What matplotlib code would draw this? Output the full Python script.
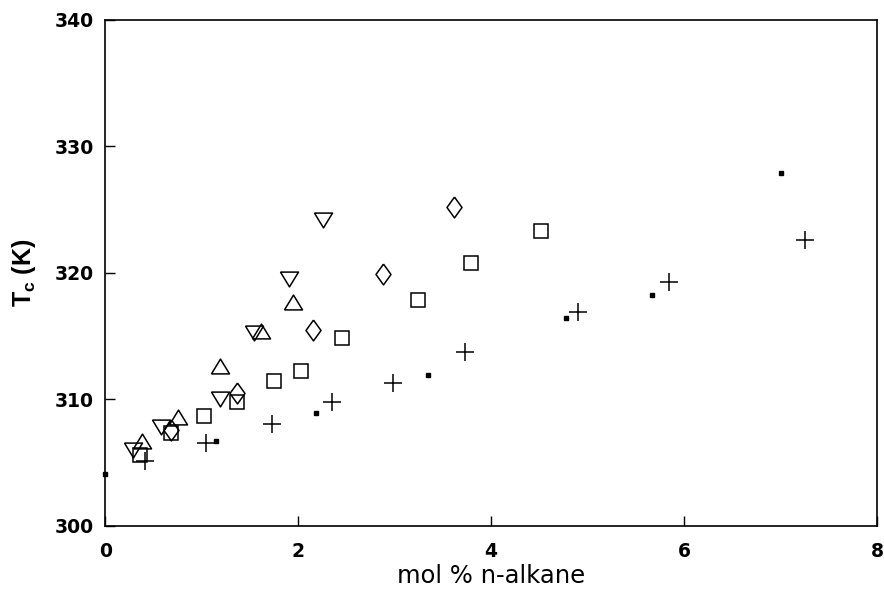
import numpy as np
import matplotlib
matplotlib.use("Agg")
import matplotlib.pyplot as plt

plt.rcParams['font.family'] = ['DejaVu Sans']

# mol % n-alkane vs Tc (K), one array pair per symbol series
dot_x = [0.0, 1.15, 2.19, 3.35, 4.78, 5.67, 7.01]
dot_y = [304.1, 306.7, 308.9, 311.9, 316.4, 318.2, 327.9]

plus_x = [0.41, 1.05, 1.73, 2.35, 2.98, 3.73, 4.90, 5.84, 7.25]
plus_y = [305.1, 306.5, 308.0, 309.8, 311.3, 313.7, 316.9, 319.3, 322.6]

square_x = [0.36, 0.68, 1.02, 1.37, 1.75, 2.03, 2.45, 3.24, 3.79, 4.52]
square_y = [305.6, 307.3, 308.7, 309.8, 311.4, 312.2, 314.8, 317.8, 320.8, 323.3]

diamond_x = [0.68, 1.37, 2.15, 2.88, 3.62]
diamond_y = [307.6, 310.5, 315.5, 319.9, 325.2]

up_x = [0.38, 0.75, 1.19, 1.61, 1.95]
up_y = [306.7, 308.6, 312.6, 315.4, 317.7]

down_x = [0.29, 0.58, 1.19, 1.54, 1.91, 2.26]
down_y = [306.0, 307.8, 310.0, 315.2, 319.5, 324.2]

x_ticks = [0, 2, 4, 6, 8]
y_ticks = [300, 310, 320, 330, 340]

# marker shapes a bit squatter / wider than the matplotlib defaults
tri_up = [(-1, -0.82), (1, -0.82), (0, 0.82), (-1, -0.82)]
tri_down = [(-1, 0.82), (1, 0.82), (0, -0.82), (-1, 0.82)]
diamond = [(0, 1), (0.72, 0), (0, -1), (-0.72, 0), (0, 1)]

fig = plt.figure(figsize=(8.84, 5.94), dpi=100)
ax = fig.add_axes([0.119, 0.115, 0.873, 0.852])

open_kw = dict(linestyle='none', markerfacecolor='none', markeredgecolor='black',
               markeredgewidth=1.1, clip_on=False)
ax.plot(square_x, square_y, marker='s', markersize=10, **open_kw)
ax.plot(diamond_x, diamond_y, marker=diamond, markersize=15, **open_kw)
ax.plot(up_x, up_y, marker=tri_up, markersize=13, **open_kw)
ax.plot(down_x, down_y, marker=tri_down, markersize=13, **open_kw)
ax.plot(plus_x, plus_y, marker='+', markersize=13, linestyle='none',
        color='black', markeredgewidth=1.1, clip_on=False)
ax.plot(dot_x, dot_y, marker='s', markersize=3.5, linestyle='none',
        color='black', clip_on=False)

ax.set_xlim(0, 8)
ax.set_ylim(300, 340)
ax.set_xticks(x_ticks)
ax.set_yticks(y_ticks)
ax.tick_params(direction='in', length=7, width=1, top=False, right=False,
               labelsize=13.5)
ax.tick_params(axis='x', pad=12)
ax.tick_params(axis='y', pad=8)
for lab in ax.get_xticklabels() + ax.get_yticklabels():
    lab.set_fontweight('bold')
for s in ax.spines.values():
    s.set_linewidth(1.2)

ax.set_xlabel('mol % n-alkane', fontsize=17.5, labelpad=2)
ax.set_ylabel(r'T$_\mathregular{c}$ (K)', fontsize=18, fontweight='bold', labelpad=12,
              family='Liberation Sans')

fig.savefig('out.png', dpi=100)
